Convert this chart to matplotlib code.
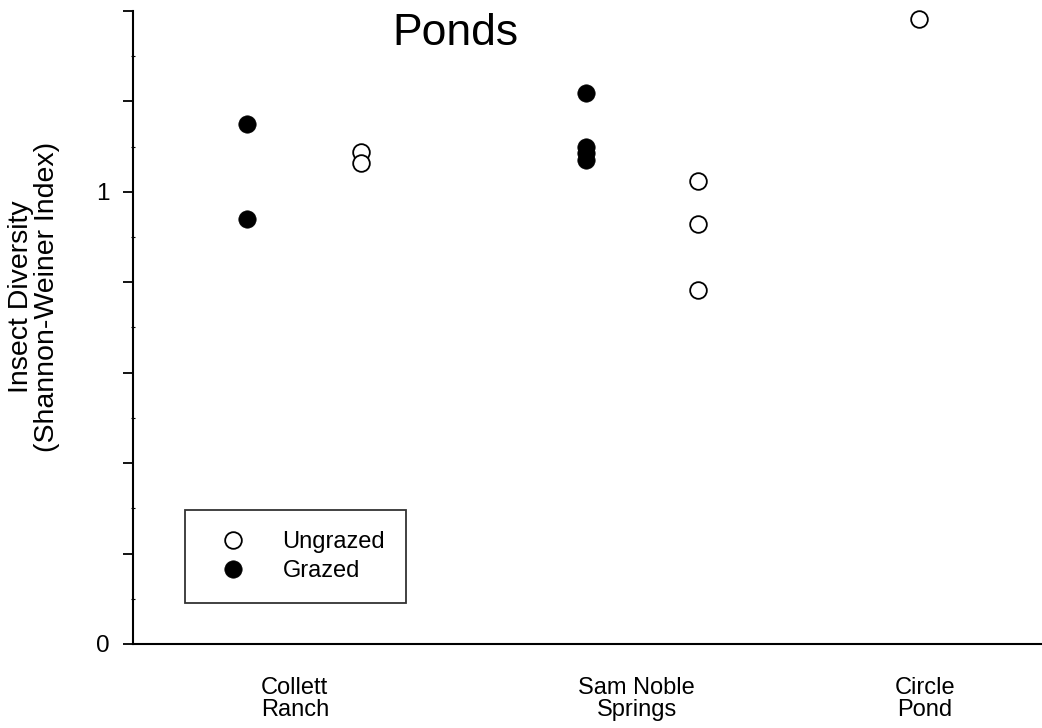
import matplotlib
matplotlib.use("Agg")
import matplotlib.pyplot as plt
from matplotlib.ticker import FixedLocator, FixedFormatter, MultipleLocator

plt.rcParams['font.family'] = ['Liberation Sans', 'DejaVu Sans']

# Data
sites = ["Collett\nRanch", "Sam Noble\nSprings", "Circle\nPond"]
site_label_x = [1.78, 5.54, 8.71]

grazed_x = [1.25, 1.25, 4.98, 4.98, 4.98, 4.98]
grazed_y = [1.151, 0.941, 1.218, 1.100, 1.086, 1.071]

ungrazed_x = [2.51, 2.51, 6.22, 6.22, 6.22, 8.65]
ungrazed_y = [1.088, 1.063, 1.024, 0.928, 0.784, 1.382]

ytick_vals = [0, 0.2, 0.4, 0.6, 0.8, 1.0, 1.2, 1.4]
ytick_labels = ["0", "", "", "", "", "1", "", ""]

W, H = 1042, 728
fig = plt.figure(figsize=(W / 100, H / 100), dpi=100)
ax = fig.add_axes([133 / W, 1 - 644 / H, 1 - 133 / W, (644 - 11) / H])

ung, = ax.plot(ungrazed_x, ungrazed_y, linestyle='none', marker='o', ms=12,
               mfc='white', mec='black', mew=1.3, label='Ungrazed', clip_on=False)
grz, = ax.plot(grazed_x, grazed_y, linestyle='none', marker='o', ms=12.5,
               mfc='black', mec='black', mew=0.5, label='Grazed', clip_on=False)

ax.set_xlim(0, 10)
ax.set_ylim(0, 1.4)

ax.spines['top'].set_visible(False)
ax.spines['right'].set_visible(False)
for s in ['left', 'bottom']:
    ax.spines[s].set_linewidth(1.5)

ax.yaxis.set_major_locator(FixedLocator(ytick_vals))
ax.yaxis.set_major_formatter(FixedFormatter(ytick_labels))
ax.yaxis.set_minor_locator(MultipleLocator(0.1))
ax.tick_params(axis='y', which='major', direction='out', length=7, width=1.3,
               pad=10, labelsize=17.5)
ax.tick_params(axis='y', which='minor', direction='inout', length=3, width=0.8)

ax.set_xticks(site_label_x)
ax.set_xticklabels(sites, fontsize=17, linespacing=1.0)
ax.tick_params(axis='x', which='major', length=0, pad=24)

fig.text(34 / W, 1 - 297 / H, "Insect Diversity\n(Shannon-Weiner Index)",
         rotation=90, ha='center', va='center', fontsize=20.5,
         multialignment='center', linespacing=0.98)

fig.text(455 / W, 1 - 45 / H, "Ponds", ha='center', va='baseline', fontsize=32)

leg = ax.legend(handles=[ung, grz], loc='upper left',
                bbox_to_anchor=(185 / W, 1 - 510 / H), bbox_transform=fig.transFigure,
                fontsize=17, frameon=True, fancybox=False, borderpad=0.88,
                handlelength=2.3, handletextpad=0.95, labelspacing=0.3,
                borderaxespad=0)
leg.get_frame().set_edgecolor('black')
leg.get_frame().set_linewidth(1.3)

fig.savefig("out.png", dpi=100)
